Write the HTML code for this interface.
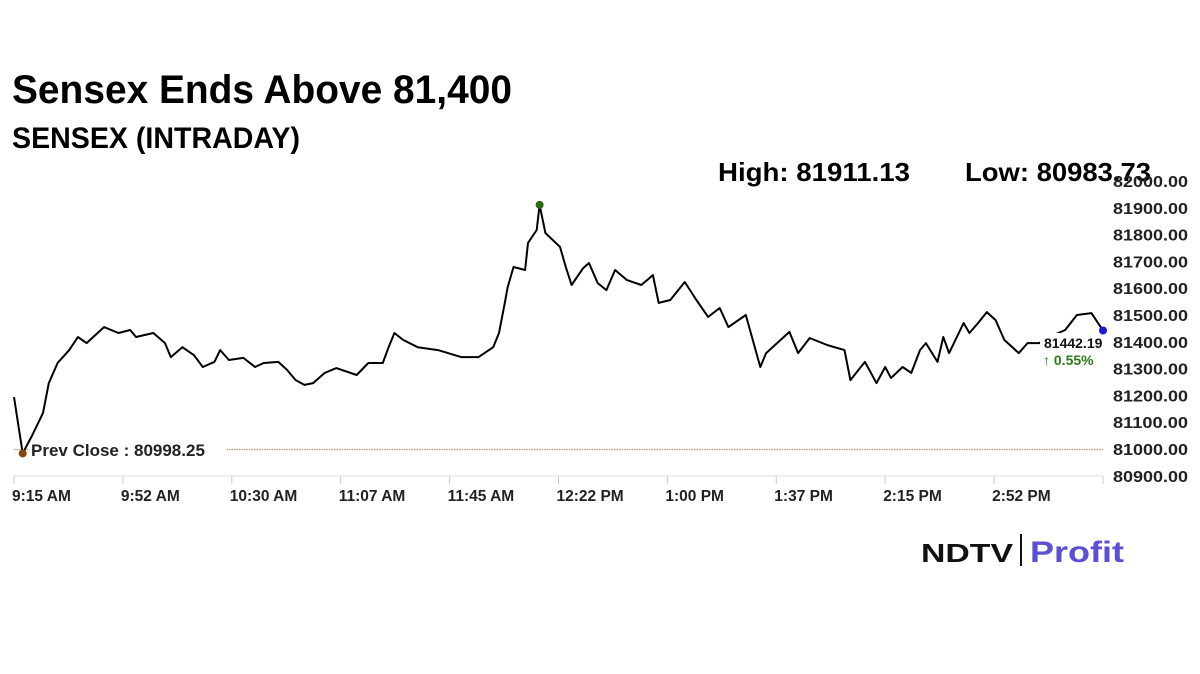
<!DOCTYPE html>
<html><head><meta charset="utf-8"><style>
html,body{margin:0;padding:0;background:#fff;width:1200px;height:674px;overflow:hidden}
svg{display:block;font-family:"Liberation Sans",Arial,sans-serif}
</style></head><body>
<svg id="chart" width="1200" height="674" viewBox="0 0 1200 674">
<text x="12" y="103" font-size="40" font-weight="bold" textLength="500" lengthAdjust="spacingAndGlyphs">Sensex Ends Above 81,400</text>
<text x="12" y="148" font-size="30" font-weight="bold" textLength="288" lengthAdjust="spacingAndGlyphs">SENSEX (INTRADAY)</text>
<text x="718" y="181" font-size="26" font-weight="bold" textLength="192" lengthAdjust="spacingAndGlyphs">High: 81911.13</text>
<text x="965" y="181" font-size="26" font-weight="bold" textLength="186" lengthAdjust="spacingAndGlyphs">Low: 80983.73</text>
<g id="axes"></g>
<g id="marks"></g>
<g>
<text x="921" y="562" font-size="26" font-weight="bold" fill="#111" textLength="92" lengthAdjust="spacingAndGlyphs">NDTV</text>
<rect x="1020" y="534" width="2" height="32" fill="#111"/>
<text x="1030" y="562" font-size="30" font-weight="bold" fill="#5b4fd6" textLength="94" lengthAdjust="spacingAndGlyphs">Profit</text>
</g>
</svg>
<script>
const tickLabels=["9:15 AM","9:52 AM","10:30 AM","11:07 AM","11:45 AM","12:22 PM","1:00 PM","1:37 PM","2:15 PM","2:52 PM"];
const yTicks=[80900,81000,81100,81200,81300,81400,81500,81600,81700,81800,81900,82000];
const minutes=[0,3,6,10,12,15,19,22,25,28,31,36,40,42,48,52,54,58,62,65,69,71,74,79,83,86,91,94,97,100,103,107,111,118,122,127,129,131,134,139,146,154,160,165,167,169,170,172,176,177,180,181,183,188,190,192,196,198,201,204,207,211,216,220,222,226,231,235,239,243,246,252,257,259,267,270,274,280,286,288,293,297,300,302,306,309,312,314,318,320,322,327,329,332,335,338,341,346,349,353,357,362,366,371,375];
const values=[81194,80984,81045,81134,81246,81321,81369,81418,81395,81425,81455,81433,81444,81418,81433,81395,81343,81380,81350,81306,81325,81369,81332,81340,81306,81321,81325,81295,81257,81239,81246,81284,81302,81276,81321,81321,81380,81433,81407,81380,81369,81343,81343,81380,81433,81545,81604,81679,81668,81769,81817,81911,81806,81754,81679,81612,81675,81694,81619,81593,81668,81631,81612,81649,81545,81556,81623,81556,81493,81526,81455,81500,81306,81358,81437,81358,81414,81388,81369,81257,81325,81246,81306,81265,81306,81284,81369,81395,81325,81418,81358,81470,81433,81470,81511,81481,81407,81358,81395,81395,81420,81444,81500,81507,81442.19];
const prevClose=80998.25;
const NS="http://www.w3.org/2000/svg";
const x=m=>14+m*(1089/375);
const y=v=>449-(v-81000)*0.268;
function mk(tag,attrs,parent,txt){const e=document.createElementNS(NS,tag);for(const k in attrs)e.setAttribute(k,attrs[k]);if(txt!==undefined)e.textContent=txt;parent.appendChild(e);return e;}
const axes=document.getElementById('axes'),marks=document.getElementById('marks');
let e=mk('line',{x1:14,x2:1103,y1:476,y2:476,stroke:'#ddd','stroke-width':1},axes);


tickLabels.forEach((t,i)=>{
  const tx=x(i*37.5);
  let l=mk('line',{x1:tx,x2:tx,y1:476,y2:484,stroke:'#ccc'},axes);
  
  
  let tt=mk('text',{x:tx-2,y:501,'font-size':15.5,'font-weight':'bold',fill:'#222'},axes,t);
  
  
});
let l2=mk('line',{x1:x(375),x2:x(375),y1:476,y2:484,stroke:'#ccc'},axes);


yTicks.forEach(v=>{
  let t=mk('text',{x:1188,y:y(v)+6,'font-size':16,'font-weight':'bold','text-anchor':'end',fill:'#222',textLength:75,lengthAdjust:'spacingAndGlyphs'},axes,v.toFixed(2));
  
  
});
let pc=mk('line',{x1:14,x2:1103,y1:y(prevClose),y2:y(prevClose),stroke:'#b8977a','stroke-width':1.2,'stroke-dasharray':'1.5,1'},marks);


let pcb=mk('rect',{x:28,y:438,width:198,height:22,fill:'#fff'},marks);


let pct=mk('text',{x:31,y:456,'font-size':17,'font-weight':'bold',fill:'#222'},marks,'Prev Close : '+prevClose.toFixed(2));


const pts=minutes.map((m,i)=>x(m).toFixed(1)+','+y(values[i]).toFixed(1)).join(' ');
let pl=mk('polyline',{points:pts,fill:'none',stroke:'#000','stroke-width':2,'stroke-linejoin':'round'},marks);


let lb=mk('rect',{x:1040,y:333,width:62,height:36,fill:'#fff'},marks);


const last=values[values.length-1];
let lt=mk('text',{x:1044,y:348,'font-size':14,'font-weight':'bold',fill:'#111'},marks,last.toFixed(2));


let ct=mk('text',{x:1043,y:365,'font-size':14,'font-weight':'bold',fill:'#2a7a1a'},marks,'↑ '+((last-prevClose)/prevClose*100).toFixed(2)+'%');


let lo=values.indexOf(Math.min(...values)), hi=values.indexOf(Math.max(...values));
let d1=mk('circle',{cx:x(minutes[lo]),cy:y(prevClose)+4,r:4,fill:'#8b4513'},marks);


let d2=mk('circle',{cx:x(minutes[hi]),cy:y(values[hi]),r:4,fill:'#2d6a0f'},marks);


let d3=mk('circle',{cx:x(375),cy:y(last),r:4,fill:'#1a1ad6'},marks);


</script>
</body></html>
